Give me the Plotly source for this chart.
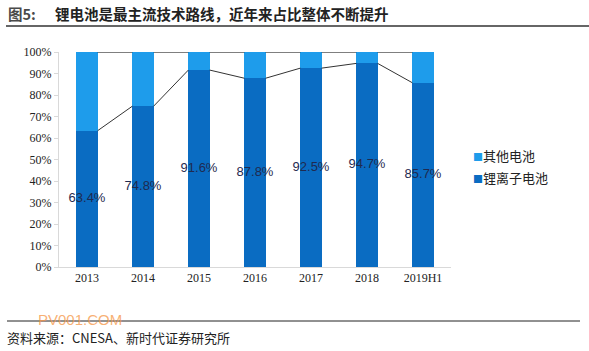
import plotly.graph_objects as go

categories = ["2013", "2014", "2015", "2016", "2017", "2018", "2019H1"]
lithium = [0.634, 0.748, 0.916, 0.878, 0.925, 0.947, 0.857]
other = [round(1 - v, 3) for v in lithium]
label_text = ["63.4%", "74.8%", "91.6%", "87.8%", "92.5%", "94.7%", "85.7%"]
yticks = [i / 10 for i in range(11)]
ytick_text = [f"{i*10}%" for i in range(11)]
series_names = ["锂离子电池", "其他电池"]

W, H = 589, 351
X0, X1, YT, YB = 59, 451, 52, 267
BW = 0.38

def px(x):
    return (x - X0) / (X1 - X0)

def py(y):
    return (YB - y) / (YB - YT)

xs = list(range(len(categories)))
C_LI = "#0A6CC2"
C_OT = "#1E9CEB"

fig = go.Figure()
fig.add_trace(go.Bar(x=xs, y=lithium, name=series_names[0], marker=dict(color=C_LI, line=dict(width=0)),
                     width=BW, hoverinfo="skip", showlegend=False))
fig.add_trace(go.Bar(x=xs, y=other, name=series_names[1], marker=dict(color=C_OT, line=dict(width=0)),
                     width=BW, hoverinfo="skip", showlegend=False))

# data labels centred in the lithium segment
fig.add_trace(go.Scatter(x=xs, y=[v / 2 for v in lithium], mode="text", text=label_text,
                         textposition="middle center",
                         textfont=dict(family="Liberation Sans, Arial", size=13, color="#1F2A50"),
                         showlegend=False, hoverinfo="skip"))

# series lines (Excel style) connecting stack segment tops
tops_li = lithium
tops_all = [a + b for a, b in zip(lithium, other)]
for tops, color, wd in [(tops_li, "#333333", 1), (tops_all, "#000000", 1.2)]:
    lx, ly = [], []
    for i in range(len(xs) - 1):
        lx += [xs[i] + BW / 2, xs[i + 1] - BW / 2, None]
        ly += [tops[i], tops[i + 1], None]
    fig.add_trace(go.Scatter(x=lx, y=ly, mode="lines", line=dict(color=color, width=wd),
                             showlegend=False, hoverinfo="skip"))

fig.update_layout(
    width=W, height=H, barmode="stack",
    margin=dict(l=X0, r=W - X1, t=YT, b=H - YB),
    paper_bgcolor="white", plot_bgcolor="white",
    showlegend=False,
    xaxis=dict(range=[-0.5, 6.5], tickvals=xs, ticktext=categories, showgrid=False,
               showline=True, linecolor="#D9D9D9", linewidth=1, ticks="", zeroline=False,
               tickfont=dict(family="Liberation Serif", size=12, color="#222")),
    yaxis=dict(range=[0, 1], tickvals=yticks, ticktext=ytick_text, showgrid=False,
               showline=True, linecolor="#D9D9D9", linewidth=1, ticks="outside", ticklen=4,
               tickcolor="#D9D9D9", zeroline=False,
               tickfont=dict(family="Liberation Serif", size=12, color="#222")),
)

ann = []
ann.append(dict(x=px(6), y=py(13), xref="paper", yref="paper", xanchor="left", yanchor="middle",
                text="<b>图5:</b>", showarrow=False,
                font=dict(family="Noto Sans CJK SC", size=14.5, color="#4A4A4A")))
ann.append(dict(x=px(53), y=py(13), xref="paper", yref="paper", xanchor="left", yanchor="middle",
                text="<b>锂电池是最主流技术路线，近年来占比整体不断提升</b>", showarrow=False,
                font=dict(family="Noto Sans CJK SC", size=14.5, color="#222")))
# legend (Excel style: small square tight to the text)
for name, color, yy in [(series_names[1], C_OT, 155), (series_names[0], C_LI, 177)]:
    ann.append(dict(x=px(471), y=py(yy), xref="paper", yref="paper", xanchor="left", yanchor="middle",
                    text=f'<span style="color:{color};font-size:10px">■</span>{name}', showarrow=False,
                    font=dict(family="Noto Sans CJK SC", size=13, color="#222")))
ann.append(dict(x=px(5), y=py(337), xref="paper", yref="paper", xanchor="left", yanchor="middle",
                text="资料来源：CNESA、新时代证券研究所", showarrow=False,
                font=dict(family="Noto Sans CJK SC", size=13, color="#222")))
ann.append(dict(x=px(36), y=py(319), xref="paper", yref="paper", xanchor="left", yanchor="middle",
                text="PV001.COM", showarrow=False,
                font=dict(family="Liberation Sans", size=15, color="rgba(245,150,70,0.75)")))
fig.update_layout(annotations=ann)

fig.add_shape(type="line", xref="paper", yref="paper", x0=px(6), x1=px(589), y0=py(26), y1=py(26),
              line=dict(color="#666666", width=2))
fig.add_shape(type="line", xref="paper", yref="paper", x0=px(7), x1=px(580), y0=py(321), y1=py(321),
              line=dict(color="#222222", width=1))

fig.write_html("out.html")
